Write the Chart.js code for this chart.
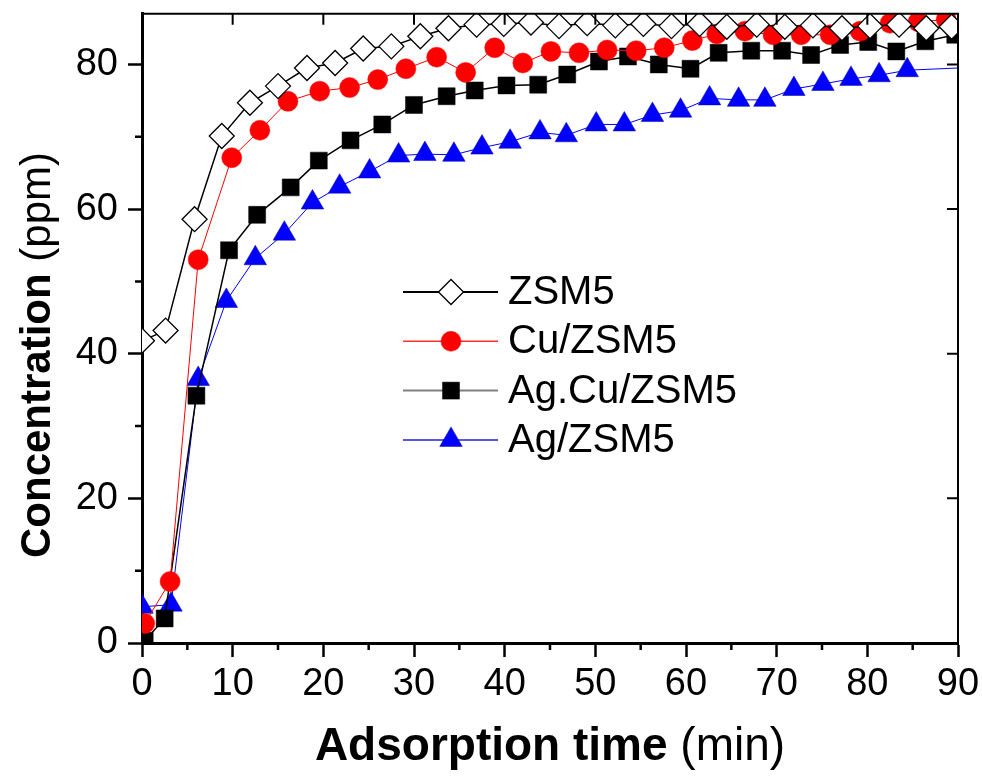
<!DOCTYPE html>
<html>
<head>
<meta charset="utf-8">
<script src="https://cdn.jsdelivr.net/npm/chart.js"></script>
<style>
  html, body { margin: 0; padding: 0; background: #fff; }
  #c { display: block; }
</style>
</head>
<body>
<canvas id="c" width="982" height="776"></canvas>
<script>
// ---- data ----
const seriesLabels = ['ZSM5', 'Cu/ZSM5', 'Ag.Cu/ZSM5', 'Ag/ZSM5'];

const zsm5Time = [0, 2.6, 5.8, 8.8, 11.9, 15.0, 18.2, 21.3, 24.4, 27.5, 30.7, 33.8, 36.9, 39.9, 42.9, 46.0, 49.1, 52.2, 55.3, 58.4, 61.5, 64.5, 67.8, 70.9, 74.0, 77.2, 80.3, 83.5, 86.5, 89.3];
const zsm5Conc = [41.8, 43.2, 58.6, 70.1, 74.7, 77.0, 79.5, 80.2, 82.2, 82.5, 83.9, 85.0, 85.5, 85.6, 85.8, 85.3, 85.7, 85.4, 85.6, 85.3, 85.6, 85.2, 85.5, 85.2, 85.4, 85.0, 85.3, 85.5, 85.0, 85.2];

const cuTime = [0.3, 3.1, 6.2, 9.9, 13.0, 16.1, 19.6, 22.9, 26.0, 29.1, 32.5, 35.7, 38.9, 42.0, 45.1, 48.2, 51.3, 54.5, 57.6, 60.7, 63.4, 66.5, 69.6, 72.7, 75.9, 79.2, 82.5, 85.6, 88.7];
const cuConc = [2.7, 8.5, 53.0, 67.1, 70.9, 74.9, 76.3, 76.8, 77.9, 79.4, 81.0, 78.9, 82.3, 80.2, 81.8, 81.6, 82.0, 81.9, 82.3, 83.3, 84.2, 84.6, 84.1, 84.1, 84.1, 84.6, 85.7, 85.9, 86.2];

const agcuTime = [0.3, 2.5, 6.0, 9.6, 12.7, 16.4, 19.5, 23.0, 26.5, 30.0, 33.6, 36.7, 40.2, 43.7, 46.9, 50.4, 53.6, 57.0, 60.5, 63.6, 67.2, 70.6, 73.8, 77.0, 80.1, 83.2, 86.4, 89.7];
const agcuConc = [0.3, 3.4, 34.2, 54.3, 59.2, 63.0, 66.7, 69.5, 71.7, 74.4, 75.6, 76.4, 77.1, 77.2, 78.6, 80.4, 81.1, 80.0, 79.4, 81.6, 81.9, 81.9, 81.3, 82.7, 83.1, 81.8, 83.2, 84.1];

const agTime = [0, 3.2, 6.2, 9.3, 12.5, 15.7, 18.8, 21.8, 25.1, 28.3, 31.2, 34.4, 37.5, 40.6, 43.9, 46.8, 50.1, 53.2, 56.3, 59.4, 62.6, 65.8, 68.7, 71.9, 75.1, 78.2, 81.3, 84.4, 93.5];
const agConc = [5.0, 5.3, 36.5, 47.3, 53.2, 56.6, 60.9, 63.1, 65.2, 67.4, 67.6, 67.5, 68.5, 69.3, 70.6, 70.2, 71.7, 71.7, 73.0, 73.6, 75.3, 75.1, 75.1, 76.6, 77.3, 78.0, 78.5, 79.2, 79.7];

const xMinorTicks = [5, 15, 25, 35, 45, 55, 65, 75, 85];
const yMinorTicks = [10, 30, 50, 70];
const xTitleBold = 'Adsorption time', xTitleUnit = ' (min)';
const yTitleBold = 'Concentration', yTitleUnit = ' (ppm)';

// ---- chart ----
const FONT = "'Liberation Sans', Arial, Helvetica, sans-serif";
const pts = (t, v) => t.map((x, i) => ({ x: x, y: v[i] }));

const styles = [
  { borderColor: '#000', borderWidth: 1.5, pointStyle: 'rectRot', pointRadius: 12.5, pointBackgroundColor: '#fff', pointBorderColor: '#000', pointBorderWidth: 1.3, legendLine: '#000' },
  { borderColor: '#ff0000', borderWidth: 1, pointStyle: 'circle', pointRadius: 10, pointBackgroundColor: '#ff0000', pointBorderColor: '#ff0000', pointBorderWidth: 0.5, legendLine: '#ff3030' },
  { borderColor: '#000', borderWidth: 1.5, pointStyle: 'rect', pointRadius: 12, pointBackgroundColor: '#000', pointBorderColor: '#000', pointBorderWidth: 0.5, legendLine: '#808080' },
  { borderColor: '#0000ff', borderWidth: 1, pointStyle: 'triangle', pointRadius: 13, pointBackgroundColor: '#0000ff', pointBorderColor: '#0000a0', pointBorderWidth: 0.5, legendLine: '#2020d0' }
];
const seriesData = [pts(zsm5Time, zsm5Conc), pts(cuTime, cuConc), pts(agcuTime, agcuConc), pts(agTime, agConc)];

const datasets = seriesLabels.map((lab, i) => Object.assign({
  label: lab,
  data: seriesData[i],
  tension: 0,
  fill: false,
  pointHoverRadius: styles[i].pointRadius
}, styles[i]));

const framePlugin = {
  id: 'frame',
  afterDraw(chart) {
    const { ctx, chartArea: a, scales: { x, y } } = chart;
    ctx.save();
    ctx.strokeStyle = '#000';
    ctx.lineWidth = 2;
    ctx.beginPath();
    ctx.moveTo(a.left, a.top); ctx.lineTo(a.right, a.top); ctx.lineTo(a.right, a.bottom);
    ctx.stroke();
    ctx.lineWidth = 2.5;
    ctx.beginPath();
    xMinorTicks.forEach(v => { const p = x.getPixelForValue(v); ctx.moveTo(p, a.bottom); ctx.lineTo(p, a.bottom + 7); });
    yMinorTicks.forEach(v => { const p = y.getPixelForValue(v); ctx.moveTo(a.left - 7, p); ctx.lineTo(a.left, p); });
    ctx.stroke();
    ctx.lineWidth = 2;
    ctx.beginPath();
    x.ticks.forEach(t => { const p = x.getPixelForValue(t.value); ctx.moveTo(p, a.top); ctx.lineTo(p, a.top + 11); });
    y.ticks.forEach(t => { const p = y.getPixelForValue(t.value); ctx.moveTo(a.right - 11, p); ctx.lineTo(a.right, p); });
    ctx.stroke();
    ctx.restore();
  }
};

function drawMixed(ctx, bold, normal, size, cx, cy) {
  const fb = 'bold ' + size + 'px ' + FONT, fn = size + 'px ' + FONT;
  ctx.font = fb; const wb = ctx.measureText(bold).width;
  ctx.font = fn; const wn = ctx.measureText(normal).width;
  const x0 = cx - (wb + wn) / 2;
  ctx.textBaseline = 'alphabetic';
  ctx.textAlign = 'left';
  ctx.font = fb; ctx.fillText(bold, x0, cy);
  ctx.font = fn; ctx.fillText(normal, x0 + wb, cy);
}

const titlePlugin = {
  id: 'titles',
  afterDraw(chart) {
    const { ctx, chartArea: a } = chart;
    ctx.save();
    ctx.fillStyle = '#000';
    drawMixed(ctx, xTitleBold, xTitleUnit, 46, (a.left + a.right) / 2, 760);
    ctx.translate(50, 355);
    ctx.rotate(-Math.PI / 2);
    drawMixed(ctx, yTitleBold, yTitleUnit, 42, 0, 0);
    ctx.restore();
  }
};

const legendPlugin = {
  id: 'insideLegend',
  afterDraw(chart) {
    const { ctx, chartArea: a } = chart;
    const lx0 = a.left + 261, lx1 = a.left + 356, mx = a.left + 309, tx = a.left + 366;
    ctx.save();
    chart.data.datasets.forEach((ds, i) => {
      const yy = 292 + i * 49.3;
      ctx.strokeStyle = styles[i].legendLine;
      ctx.lineWidth = ds.borderWidth + 0.5;
      ctx.beginPath(); ctx.moveTo(lx0, yy); ctx.lineTo(lx1, yy); ctx.stroke();
      ctx.fillStyle = ds.pointBackgroundColor;
      ctx.strokeStyle = ds.pointBorderColor;
      ctx.lineWidth = ds.pointBorderWidth;
      Chart.helpers.drawPoint(ctx, { pointStyle: ds.pointStyle, radius: ds.pointRadius, rotation: 0, borderWidth: ds.pointBorderWidth }, mx, yy);
      ctx.fillStyle = '#000';
      ctx.font = '40px ' + FONT;
      ctx.textAlign = 'left';
      ctx.textBaseline = 'middle';
      ctx.fillText(ds.label, tx, yy + 1);
    });
    ctx.restore();
  }
};

new Chart(document.getElementById('c'), {
  type: 'line',
  data: { datasets: datasets },
  options: {
    responsive: false,
    animation: false,
    devicePixelRatio: 1,
    layout: { padding: { top: 13, right: 24, left: 0, bottom: 0 } },
    plugins: { legend: { display: false }, tooltip: { enabled: false }, title: { display: false } },
    scales: {
      x: {
        type: 'linear', min: 0, max: 90,
        afterFit(s) { s.height = 133; s.paddingLeft = 0; s.paddingRight = 0; },
        ticks: { stepSize: 10, includeBounds: false, color: '#000', font: { family: FONT, size: 38 }, padding: 5, maxRotation: 0 },
        grid: { drawOnChartArea: false, drawTicks: true, tickLength: 14, tickWidth: 2.5, tickColor: '#000', color: '#000' },
        border: { display: true, color: '#000', width: 3 }
      },
      y: {
        type: 'linear', min: 0, max: 87,
        afterFit(s) { s.width = 142; s.paddingTop = 0; s.paddingBottom = 0; },
        ticks: { stepSize: 20, includeBounds: false, color: '#000', font: { family: FONT, size: 38 }, padding: 10 },
        grid: { drawOnChartArea: false, drawTicks: true, tickLength: 14, tickWidth: 2.5, tickColor: '#000', color: '#000' },
        border: { display: true, color: '#000', width: 3 }
      }
    }
  },
  plugins: [framePlugin, titlePlugin, legendPlugin]
});
</script>
</body>
</html>
